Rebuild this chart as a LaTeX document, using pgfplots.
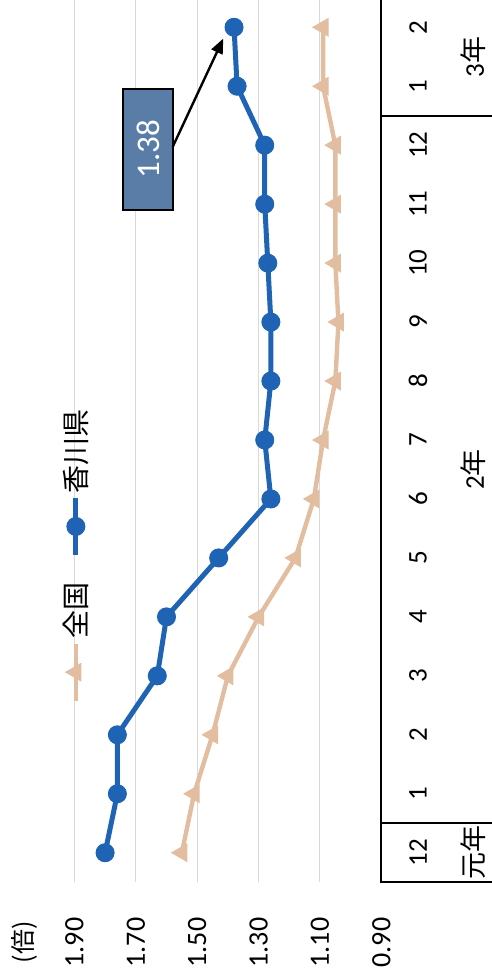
\documentclass[border=0pt]{standalone}
\usepackage{fontspec}
\setmainfont{Carlito}
\newfontfamily\jp{Noto Sans CJK JP}
\usepackage{pgfplots}
\pgfplotsset{compat=1.18}
\usetikzlibrary{arrows.meta}
\definecolor{kagawa}{HTML}{1F64B4}
\definecolor{zenkoku}{HTML}{E3BD9F}
\definecolor{callout}{HTML}{5A7DA8}
\definecolor{gridgray}{HTML}{D9D9D9}
\begin{document}
\begin{tikzpicture}[x=1pt,y=1pt]
\useasboundingbox (0,0) rectangle (246,-489.5);
\begin{axis}[
  at={(37.2pt,-441.1pt)}, anchor=south west,
  scale only axis, width=153.5pt, height=442.2pt,
  x dir=reverse, xmin=0.9, xmax=1.9, ymin=-0.5, ymax=14.5,
  axis line style={draw=none},
  xtick={0.9,1.1,1.3,1.5,1.7,1.9},
  xticklabels={0.90,1.10,1.30,1.50,1.70,1.90},
  xmajorgrids, grid style={gridgray, line width=0.5pt},
  ytick={0,...,14},
  yticklabels={12,1,2,3,4,5,6,7,8,9,10,11,12,1,2},
  yticklabel pos=right,
  major tick length=0pt,
  xticklabel style={rotate=90, anchor=east, inner sep=0pt, font=\fontsize{14}{14}\selectfont},
  xticklabel shift=17.5pt,
  yticklabel style={rotate=90, anchor=center, inner sep=0pt, font=\fontsize{13.5}{13.5}\selectfont},
  yticklabel shift=18.3pt,
  clip=false,
  legend columns=1,
  reverse legend,
  legend style={draw=none, fill=none, at={(axis cs:1.892,5.03)}, anchor=center,
    nodes={inner sep=0pt}, row sep=12.5pt,
    font=\fontsize{14}{14}\selectfont\jp},
]
% national average
\addplot[zenkoku, line width=2.2pt, mark=triangle*, mark size=5pt,
  mark options={rotate=90, fill=zenkoku, draw=zenkoku, line width=0.5pt},
  legend image code/.code={
    \draw[mark repeat=2,mark phase=2] plot coordinates {(0pt,0pt) (0pt,14.25pt) (0pt,28.5pt)};
    \node[rotate=90, anchor=west, inner sep=0pt, text=black] at (0pt,30pt) {全国};}]
  coordinates {(1.55,0) (1.51,1) (1.45,2) (1.40,3) (1.30,4) (1.18,5) (1.12,6) (1.09,7)
               (1.05,8) (1.04,9) (1.05,10) (1.05,11) (1.05,12) (1.09,13) (1.09,14)};
\addlegendentry{}
% Kagawa prefecture
\addplot[kagawa, line width=2.5pt, mark=*, mark size=4.5pt,
  mark options={fill=kagawa, draw=kagawa, line width=0.5pt},
  legend image code/.code={
    \draw[mark repeat=2,mark phase=2] plot coordinates {(0pt,0pt) (0pt,14.25pt) (0pt,28.5pt)};
    \node[rotate=90, anchor=west, inner sep=0pt, text=black] at (0pt,29.5pt) {香川県};}]
  coordinates {(1.80,0) (1.76,1) (1.76,2) (1.63,3) (1.60,4) (1.43,5) (1.26,6) (1.28,7)
               (1.26,8) (1.26,9) (1.27,10) (1.28,11) (1.28,12) (1.37,13) (1.38,14)};
\addlegendentry{}
% category table frame
\draw[line width=1pt] (axis cs:0.9,14.7) -- (axis cs:0.9,-0.5) -- (axis cs:0.5,-0.5);
\draw[line width=1pt] (axis cs:0.9,0.5) -- (axis cs:0.5,0.5);
\draw[line width=1pt] (axis cs:0.9,12.5) -- (axis cs:0.5,12.5);
% year labels
\node[rotate=90, font=\fontsize{13.5}{13.5}\selectfont\jp] at (axis cs:0.60,0) {元年};
\node[rotate=90, font=\fontsize{13.5}{13.5}\selectfont] at (axis cs:0.60,6.5) {2{\jp 年}};
\node[rotate=90, font=\fontsize{13.5}{13.5}\selectfont] at (axis cs:0.60,13.5) {3{\jp 年}};
% unit
\node[rotate=90, font=\fontsize{12.5}{12.5}\selectfont\jp] at (axis cs:2.064,-1.515) {(倍)};
% callout for the latest value
\node[rotate=90, fill=callout, draw=black, line width=1.3pt, minimum width=60.5pt, minimum height=25pt,
      inner sep=0pt, text=white, font=\fontsize{16.5}{16.5}\selectfont] at (axis cs:1.66,11.93) {1.38};
\draw[-{Triangle[length=7.5pt,width=6pt]}, line width=1.2pt] (axis cs:1.580,11.97) -- (axis cs:1.415,13.81);
\end{axis}
\end{tikzpicture}
\end{document}
